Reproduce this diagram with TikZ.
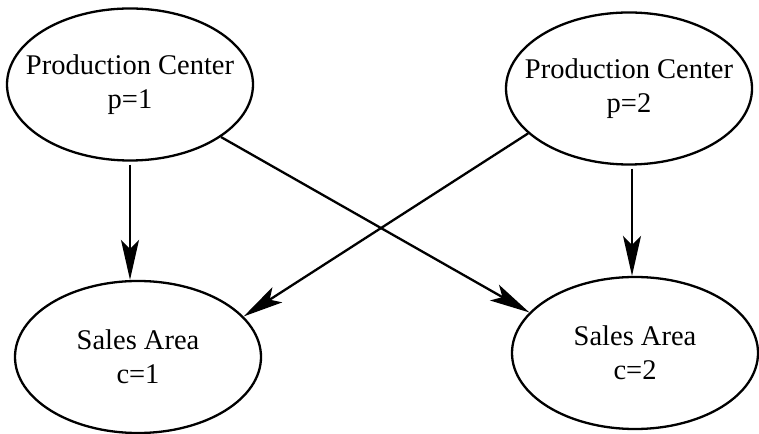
\documentclass[tikz,border=0pt]{standalone}
\usepackage{fontspec}
\setmainfont{Liberation Serif}
\usetikzlibrary{shapes.geometric}
\usetikzlibrary{arrows.meta}
\tikzset{>={Stealth[width=18pt,length=40pt,inset=9pt]}}
\tikzset{site/.style={draw, ellipse, line width=2.3pt, minimum width=246pt,
    minimum height=152pt, inner xsep=-25pt, inner ysep=0pt, align=center,
    font=\fontsize{28.5}{34}\selectfont}}

\begin{document}
\begin{tikzpicture}[x=1pt,y=1pt]

  \useasboundingbox (0,0) rectangle (759,433);

  \node[site] (pc1) at (130,348.5) {Production Center\\p=1};
  \node[site] (pc2) at (629,344.5) {Production Center\\p=2};
  \node[site] (sa1) at (138,76) {Sales Area\\c=1};
  \node[site] (sa2) at (635,80) {Sales Area\\c=2};

  \draw[line width=2.3pt,->,shorten <=3pt] (pc1.south) -- (pc1.south |- sa1.north);
  \draw[line width=2.3pt,->,shorten <=3pt] ([xshift=3pt]pc2.south) -- ([xshift=-3pt]sa2.north);
  \draw[line width=2.3pt,->] (pc1.-30) -- (sa2.159);
  \draw[line width=2.3pt,->] (pc2.204) -- (sa1.21);

\end{tikzpicture}
\end{document}
